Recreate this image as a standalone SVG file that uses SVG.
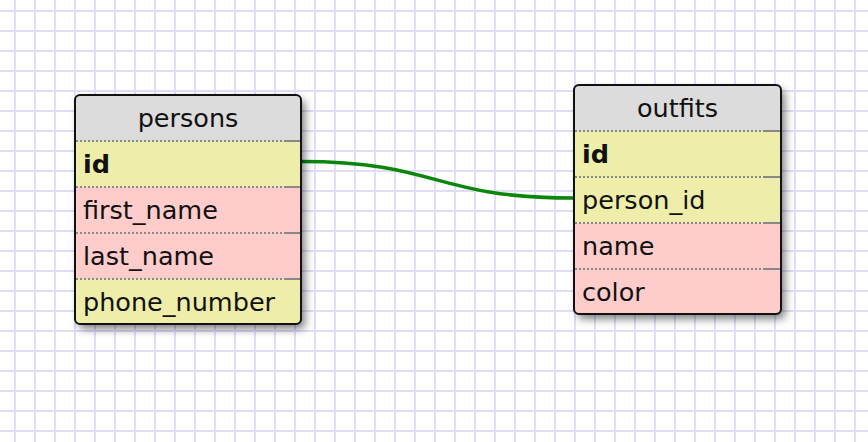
<svg xmlns="http://www.w3.org/2000/svg" width="868" height="442" viewBox="0 0 868 442">
  <defs>
    <pattern id="grid" x="14" y="10" width="20" height="20" patternUnits="userSpaceOnUse">
      <path d="M1,0 V20 M0,1 H20" fill="none" stroke="#dfddf8" stroke-width="2"/>
    </pattern>
    <filter id="shadow" x="-15%" y="-15%" width="140%" height="140%">
      <feDropShadow dx="4" dy="5" stdDeviation="4" flood-color="#000" flood-opacity="0.5"/>
    </filter>
  </defs>
  <style>
    .frame { fill: none; stroke: #111; stroke-width: 2; }
    .head { fill: #dcdcdc; }
    .key { fill: #eeeeaa; }
    .val { fill: #ffcccc; }
    .sep { stroke: #888; stroke-width: 2; stroke-dasharray: 2 2; }
    .sepend { stroke: #888; stroke-width: 2; }
    .title { font-family: "DejaVu Sans", Verdana, sans-serif; font-size: 25.5px; fill: #111; text-anchor: middle; }
    .field { font-family: "DejaVu Sans", Verdana, sans-serif; font-size: 25.5px; fill: #111; }
    .pk { font-weight: bold; }
    .link { fill: none; stroke: #0a870a; stroke-width: 3.5; }
  </style>

  <rect width="868" height="442" fill="#fff"/>
  <rect width="868" height="442" fill="url(#grid)"/>

  <g id="connectors">
    <path class="link" d="M301,161.5 C440,161.5 432,198 574,198"/>
  </g>

  <g id="persons">
    <rect x="75" y="95" width="226" height="229" rx="5" fill="#fff" filter="url(#shadow)"/>
    <path class="head" d="M80,95 H296 A5,5 0 0 1 301,100 V141 H75 V100 A5,5 0 0 1 80,95 Z"/>
    <rect class="key" x="75" y="141" width="226" height="46"/>
    <rect class="val" x="75" y="187" width="226" height="46"/>
    <rect class="val" x="75" y="233" width="226" height="46"/>
    <path class="key" d="M75,279 H301 V319 A5,5 0 0 1 296,324 H80 A5,5 0 0 1 75,319 Z"/>
    <line class="sep" x1="76" y1="141" x2="284" y2="141"/>
    <line class="sep" x1="76" y1="187" x2="284" y2="187"/>
    <line class="sep" x1="76" y1="233" x2="284" y2="233"/>
    <line class="sep" x1="76" y1="279" x2="284" y2="279"/>
    <line class="sepend" x1="284" y1="141" x2="300" y2="141"/>
    <line class="sepend" x1="284" y1="187" x2="300" y2="187"/>
    <line class="sepend" x1="284" y1="233" x2="300" y2="233"/>
    <line class="sepend" x1="284" y1="279" x2="300" y2="279"/>
    <rect class="frame" x="75" y="95" width="226" height="229" rx="5"/>
    <text class="title" x="188" y="127">persons</text>
    <text class="field pk" x="83" y="173">id</text>
    <text class="field" x="83" y="219">first_name</text>
    <text class="field" x="83" y="265">last_name</text>
    <text class="field" x="83" y="311">phone_number</text>
  </g>

  <g id="outfits">
    <rect x="574" y="85" width="207" height="229" rx="5" fill="#fff" filter="url(#shadow)"/>
    <path class="head" d="M579,85 H776 A5,5 0 0 1 781,90 V131 H574 V90 A5,5 0 0 1 579,85 Z"/>
    <rect class="key" x="574" y="131" width="207" height="46"/>
    <rect class="key" x="574" y="177" width="207" height="46"/>
    <rect class="val" x="574" y="223" width="207" height="46"/>
    <path class="val" d="M574,269 H781 V309 A5,5 0 0 1 776,314 H579 A5,5 0 0 1 574,309 Z"/>
    <line class="sep" x1="575" y1="131" x2="764" y2="131"/>
    <line class="sep" x1="575" y1="177" x2="764" y2="177"/>
    <line class="sep" x1="575" y1="223" x2="764" y2="223"/>
    <line class="sep" x1="575" y1="269" x2="764" y2="269"/>
    <line class="sepend" x1="764" y1="131" x2="780" y2="131"/>
    <line class="sepend" x1="764" y1="177" x2="780" y2="177"/>
    <line class="sepend" x1="764" y1="223" x2="780" y2="223"/>
    <line class="sepend" x1="764" y1="269" x2="780" y2="269"/>
    <rect class="frame" x="574" y="85" width="207" height="229" rx="5"/>
    <text class="title" x="677.5" y="117">outfits</text>
    <text class="field pk" x="582" y="163">id</text>
    <text class="field" x="582" y="209">person_id</text>
    <text class="field" x="582" y="255">name</text>
    <text class="field" x="582" y="301">color</text>
  </g>
</svg>
